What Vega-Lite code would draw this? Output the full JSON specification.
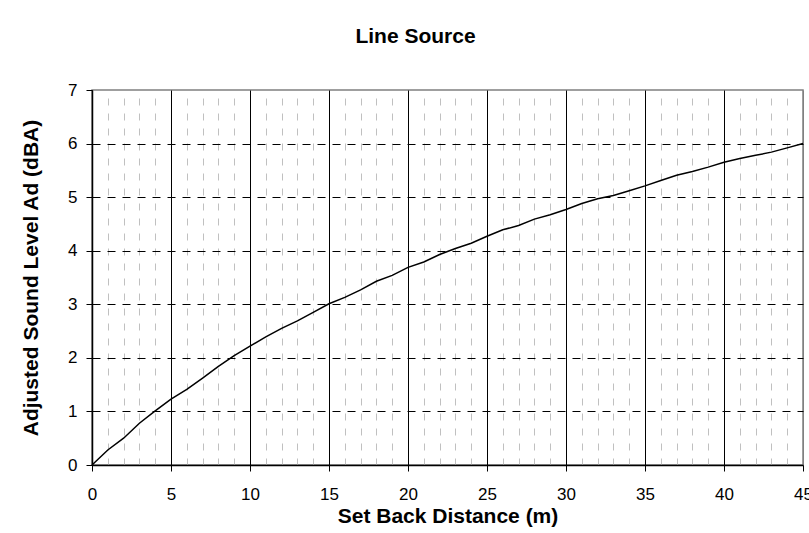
{
  "$schema": "https://vega.github.io/schema/vega-lite/v6.json",
  "width": 711,
  "height": 375,
  "autosize": {"type": "none"},
  "padding": {"left": 92, "top": 90, "right": 6, "bottom": 68},
  "background": "white",
  "title": {
    "text": "Line Source",
    "font": "Liberation Sans",
    "fontSize": 21,
    "fontWeight": "bold",
    "color": "black",
    "anchor": "middle",
    "dx": -32,
    "offset": 34
  },
  "config": {
    "view": {"stroke": "#808080", "strokeWidth": 1.5},
    "font": "Liberation Sans"
  },
  "data": {
    "values": [
      {"d": 0, "a": 0}, {"d": 1, "a": 0.28}, {"d": 2, "a": 0.5}, {"d": 3, "a": 0.78},
      {"d": 4, "a": 1.01}, {"d": 5, "a": 1.23}, {"d": 6, "a": 1.41}, {"d": 7, "a": 1.62},
      {"d": 8, "a": 1.84}, {"d": 9, "a": 2.04}, {"d": 10, "a": 2.22}, {"d": 11, "a": 2.39},
      {"d": 12, "a": 2.55}, {"d": 13, "a": 2.69}, {"d": 14, "a": 2.85}, {"d": 15, "a": 3.01},
      {"d": 16, "a": 3.13}, {"d": 17, "a": 3.27}, {"d": 18, "a": 3.43}, {"d": 19, "a": 3.54},
      {"d": 20, "a": 3.69}, {"d": 21, "a": 3.79}, {"d": 22, "a": 3.93}, {"d": 23, "a": 4.04},
      {"d": 24, "a": 4.14}, {"d": 25, "a": 4.27}, {"d": 26, "a": 4.39}, {"d": 27, "a": 4.47},
      {"d": 28, "a": 4.59}, {"d": 29, "a": 4.67}, {"d": 30, "a": 4.77}, {"d": 31, "a": 4.88},
      {"d": 32, "a": 4.97}, {"d": 33, "a": 5.03}, {"d": 34, "a": 5.12}, {"d": 35, "a": 5.21},
      {"d": 36, "a": 5.31}, {"d": 37, "a": 5.41}, {"d": 38, "a": 5.48}, {"d": 39, "a": 5.56},
      {"d": 40, "a": 5.65}, {"d": 41, "a": 5.72}, {"d": 42, "a": 5.78}, {"d": 43, "a": 5.84},
      {"d": 44, "a": 5.92}, {"d": 45, "a": 6.0}
    ]
  },
  "layer": [
    {
      "mark": {"type": "line", "color": "black", "strokeWidth": 1.5},
      "encoding": {
        "x": {
          "field": "d",
          "type": "quantitative",
          "scale": {"domain": [0, 45], "nice": false},
          "axis": {
            "values": [0, 5, 10, 15, 20, 25, 30, 35, 40, 45],
            "format": "d",
            "title": "Set Back Distance (m)",
            "grid": true,
            "gridColor": {"condition": {"test": "datum.value === 45", "value": "#808080"}, "value": "black"},
            "gridWidth": 1,
            "domainColor": "black",
            "domainWidth": 1.5,
            "tickColor": "black",
            "tickSize": 6,
            "labelFontSize": 17,
            "labelColor": "black",
            "labelPadding": 15,
            "labelFlush": false,
            "titleFontSize": 21,
            "titleFontWeight": "bold",
            "titleColor": "black",
            "titlePadding": 3
          }
        },
        "y": {
          "field": "a",
          "type": "quantitative",
          "scale": {"domain": [0, 7], "nice": false},
          "axis": {
            "values": [0, 1, 2, 3, 4, 5, 6, 7],
            "format": "d",
            "title": "Adjusted Sound Level Ad (dBA)",
            "grid": true,
            "gridColor": "black",
            "gridDash": [8, 7],
            "gridWidth": 1,
            "gridOpacity": {"condition": {"test": "datum.value === 0 || datum.value === 7", "value": 0}, "value": 1},
            "domainColor": "black",
            "domainWidth": 1.5,
            "tickColor": "black",
            "tickSize": 6,
            "labelFontSize": 17,
            "labelColor": "black",
            "labelPadding": 9,
            "titleFontSize": 21,
            "titleFontWeight": "bold",
            "titleColor": "black",
            "titlePadding": 26
          }
        }
      }
    },
    {
      "mark": {"type": "line", "opacity": 0},
      "encoding": {
        "x": {
          "field": "d",
          "type": "quantitative",
          "scale": {"domain": [0, 45], "nice": false},
          "axis": {
            "orient": "top",
            "values": [1, 2, 3, 4, 6, 7, 8, 9, 11, 12, 13, 14, 16, 17, 18, 19, 21, 22, 23, 24, 26, 27, 28, 29, 31, 32, 33, 34, 36, 37, 38, 39, 41, 42, 43, 44],
            "grid": true,
            "gridColor": "#c0c0c0",
            "gridDash": [7, 8],
            "gridWidth": 1,
            "labels": false,
            "ticks": false,
            "domain": false,
            "title": null
          }
        },
        "y": {
          "field": "a",
          "type": "quantitative",
          "scale": {"domain": [0, 7], "nice": false}
        }
      }
    }
  ],
  "resolve": {"axis": {"x": "independent"}}
}
